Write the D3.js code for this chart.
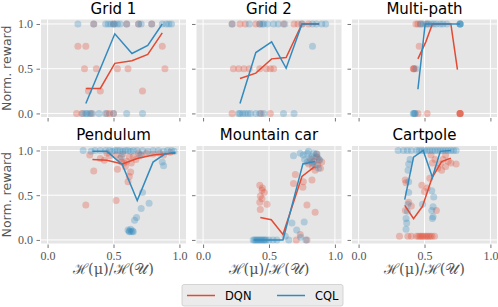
<!DOCTYPE html>
<html>
<head>
<meta charset="utf-8">
<script src="https://cdnjs.cloudflare.com/ajax/libs/d3/7.8.5/d3.min.js"></script>
<style>
body{margin:0;background:#fff;}
svg{display:block;}
</style>
</head>
<body>
<script>
// panel titles and ticks
const titles=["Grid 1","Grid 2","Multi-path","Pendulum","Mountain car","Cartpole"];
const xTicks=[0,0.5,1], yTicks=[0,0.5,1];
const seriesNames=["DQN","CQL"];

// Grid 1
const g1DqnPts=[[0.35,1],[0.50,1],[0.60,1],[0.69,1],[0.79,1],
 [0.23,0.75],[0.29,0.75],[0.87,0.75],
 [0.28,0.5],[0.37,0.5],[0.53,0.5],[0.61,0.5],[0.89,0.5],
 [0.31,0.25],[0.40,0.25],[0.72,0.25],
 [0.22,0],[0.26,0],[0.33,0],[0.45,0],[0.47,0],[0.50,0]];
const g1CqlPts=[[0.23,1],[0.35,1],[0.44,1],[0.46,1],[0.48,1],[0.50,1],[0.51,1],[0.53,1],[0.55,1],[0.60,1],[0.69,1],[0.71,1],[0.79,1],[0.87,1],[0.90,1],[0.92,1],[0.94,1],
 [0.27,0],[0.29,0],[0.30,0],[0.32,0],[0.34,0],[0.39,0],[0.44,0],[0.50,0],[0.60,0],[0.72,0]];
const g1DqnLine=[[0.29,0.28],[0.40,0.28],[0.51,0.56],[0.64,0.59],[0.76,0.66],[0.87,0.90]];
const g1CqlLine=[[0.29,0.11],[0.40,0.50],[0.51,0.89],[0.64,0.67],[0.76,0.76],[0.87,1.0]];

// Grid 2
const g2DqnPts=[[0.22,1],[0.28,1],[0.32,1],[0.40,1],[0.43,1],[0.61,1],[0.69,1],[0.72,1],[0.75,1],[0.80,1],
 [0.23,0.5],[0.27,0.5],[0.31,0.5],[0.35,0.5],[0.43,0.5],[0.48,0.5],[0.51,0.5],[0.535,0.5],
 [0.22,0],[0.44,0],[0.51,0]];
const g2CqlPts=[[0.22,1],[0.35,1],[0.43,1],[0.45,1],[0.46,1],[0.49,1],[0.535,1],[0.57,1],[0.62,1],[0.75,1],[0.83,1],[0.86,1],[0.90,1],[0.93,1],
 [0.83,0.75],
 [0.27,0],[0.28,0],[0.30,0],[0.32,0],[0.34,0],[0.36,0],[0.40,0],[0.43,0],[0.46,0],[0.61,0],[0.69,0]];
const g2DqnLine=[[0.28,0.39],[0.40,0.45],[0.52,0.61],[0.63,0.625],[0.75,1.0],[0.88,1.0]];
const g2CqlLine=[[0.28,0.11],[0.40,0.68],[0.52,0.80],[0.63,0.505],[0.75,1.0],[0.88,1.0]];

// Multi-path
const mpDqnPts=[[0.435,1],[0.45,1],[0.47,1],[0.52,1],[0.46,0.75],
 [0.415,0.5],[0.42,0.5],[0.42,0.5],
 [0.45,0],[0.52,0],[0.77,0],[0.77,0],[0.77,0],[0.77,0]];
const mpCqlPts=[[0.47,1],[0.49,1],[0.51,1],[0.53,1],[0.55,1],[0.57,1],[0.59,1],[0.62,1],[0.64,1],[0.67,1],[0.77,1],[0.77,1],[0.77,1],[0.77,1],
 [0.435,0.5],[0.415,0],[0.42,0],[0.425,0],[0.43,0]];
const mpDqnLine=[[0.45,0.61],[0.51,0.80],[0.56,1.0],[0.70,1.0],[0.75,0.49]];
const mpCqlLine=[[0.45,0.27],[0.505,1.0],[0.56,1.0],[0.70,1.0],[0.77,1.0]];

// Pendulum
const penDqnPts=[[0.29,0.39],[0.52,0.44],[0.35,0.77],[0.53,0.79],[0.61,0.65],[0.62,0.71],[0.63,0.76],
 [0.32,0.95],[0.40,0.91],[0.43,0.89],[0.47,0.94],[0.52,0.95],[0.55,0.91],[0.56,0.87],[0.58,0.86],[0.59,0.82],
 [0.60,0.88],[0.635,0.86],[0.65,0.93],[0.67,0.90],[0.71,0.95],[0.75,0.97],[0.80,0.96],[0.85,0.97],[0.88,0.95],
 [0.93,0.98],[0.62,0.93],[0.57,0.96],[0.45,0.97],[0.69,0.97]];
const penCqlPts=[[0.27,1],[0.33,0.99],[0.36,1],[0.40,1],[0.44,1],[0.47,1],[0.49,0.99],[0.51,1],[0.53,1],[0.55,1],[0.57,0.99],
 [0.59,1],[0.61,1],[0.63,0.99],[0.65,1],[0.68,1],[0.72,1],[0.76,0.99],[0.80,1],[0.84,1],[0.88,0.99],[0.91,1],[0.94,1],[0.96,0.99],
 [0.72,0.53],[0.77,0.41],[0.71,0.35],[0.675,0.25],[0.66,0.22],[0.61,0.11],[0.62,0.10],[0.635,0.09],[0.645,0.10],
 [0.65,0.09],[0.63,0.12],[0.62,0.09],[0.87,0.87],[0.88,0.83],[0.56,0.93],[0.70,0.95]];
const penDqnLine=[[0.34,0.90],[0.45,0.89],[0.567,0.85],[0.68,0.91],[0.80,0.95],[0.89,0.96],[0.97,0.97]];
const penCqlLine=[[0.34,0.99],[0.45,0.99],[0.567,0.84],[0.68,0.44],[0.80,0.87],[0.89,0.96],[0.97,0.98]];

// Mountain car
const mcDqnPts=[[0.43,0.61],[0.447,0.556],[0.464,0.53],[0.434,0.49],[0.447,0.46],[0.43,0.42],[0.485,0.40],[0.434,0.34],[0.45,0.58],
 [0.707,0],[0.737,0.06],[0.788,0],[0.85,0.31],[0.788,0.39],[0.70,0.73],[0.686,0.63],[0.757,0.59],[0.826,0.67],[0.76,0.65],
 [0.80,0.85],[0.82,0.90],[0.84,0.88],[0.86,0.93],[0.87,0.84],[0.88,0.90],[0.89,0.80],[0.85,0.78],[0.83,0.82],[0.86,0.96],[0.90,0.87]];
const mcCqlPts=[[0.38,0],[0.39,0],[0.40,0],[0.41,0],[0.42,0],[0.43,0],[0.44,0],[0.45,0],[0.46,0],[0.47,0],[0.48,0],[0.50,0],[0.53,0],[0.56,0],
 [0.623,0.04],[0.71,0.11],[0.767,0.20],[0.674,0.19],[0.78,0.0],[0.74,0.03],[0.65,0.0],
 [0.686,0.94],[0.737,0.97],[0.76,0.95],[0.79,0.97],[0.80,0.99],[0.826,0.93],[0.84,0.97],[0.864,0.96],[0.884,0.89],
 [0.85,0.84],[0.79,0.87],[0.876,0.80],[0.83,0.86],[0.81,0.91],[0.77,0.90],[0.87,0.92]];
const mcDqnLine=[[0.434,0.25],[0.517,0.226],[0.606,0.06],[0.75,0.71],[0.846,0.82]];
const mcCqlLine=[[0.383,0.0],[0.606,0.0],[0.757,0.85],[0.85,0.876]];

// Cartpole
const cpDqnPts=[[0.31,0.04],[0.374,0.04],[0.40,0.04],[0.44,0.04],[0.455,0.04],[0.467,0.04],[0.48,0.04],[0.49,0.04],[0.505,0.04],
 [0.518,0.04],[0.53,0.04],[0.543,0.04],[0.556,0.04],[0.576,0.04],
 [0.354,0.67],[0.36,0.64],[0.355,0.33],[0.38,0.42],[0.40,0.38],[0.48,0.61],[0.50,0.54],[0.54,0.69],[0.56,0.86],[0.59,0.33],
 [0.52,0.58],[0.60,0.80],[0.62,0.85],[0.64,0.90],[0.66,0.82],[0.68,0.88],[0.70,0.86],[0.74,0.85],[0.58,0.90],[0.63,0.78],[0.66,0.95],[0.55,0.95]];
const cpCqlPts=[[0.30,1],[0.34,1],[0.37,1],[0.40,1],[0.44,1],[0.46,1],[0.48,1],[0.50,1],[0.52,1],[0.54,1],[0.56,1],[0.58,1],
 [0.60,1],[0.62,1],[0.64,1],[0.66,1],[0.68,1],[0.70,1],[0.72,1],[0.74,1],
 [0.36,0.12],[0.365,0.19],[0.36,0.24],[0.37,0.32],[0.375,0.40],[0.38,0.53],[0.38,0.65],[0.375,0.78],[0.38,0.85],[0.39,0.90],
 [0.56,0.24],[0.565,0.26],[0.555,0.33],[0.565,0.37],[0.57,0.48],[0.555,0.55],[0.485,0.40]];
const cpDqnLine=[[0.35,0.387],[0.417,0.237],[0.485,0.376],[0.556,0.69],[0.63,0.876],[0.70,0.914]];
const cpCqlLine=[[0.35,0.45],[0.417,0.925],[0.49,1.0],[0.56,0.70],[0.62,0.99],[0.70,1.0]];

const panels=[
 {dqnPts:g1DqnPts,cqlPts:g1CqlPts,dqnLine:g1DqnLine,cqlLine:g1CqlLine},
 {dqnPts:g2DqnPts,cqlPts:g2CqlPts,dqnLine:g2DqnLine,cqlLine:g2CqlLine},
 {dqnPts:mpDqnPts,cqlPts:mpCqlPts,dqnLine:mpDqnLine,cqlLine:mpCqlLine},
 {dqnPts:penDqnPts,cqlPts:penCqlPts,dqnLine:penDqnLine,cqlLine:penCqlLine},
 {dqnPts:mcDqnPts,cqlPts:mcCqlPts,dqnLine:mcDqnLine,cqlLine:mcCqlLine},
 {dqnPts:cpDqnPts,cqlPts:cpCqlPts,dqnLine:cpDqnLine,cqlLine:cpCqlLine}
];

const W=498,H=307,
colX=[41,196.5,352],rowY=[19.5,146],
pw=145,ph=97.5,
red="#E24A33",blue="#348ABD",gray="#555555";

const svg=d3.select("body").append("svg")
 .attr("width",W).attr("height",H)
 .style("background","#fff");

const x=d3.scaleLinear().domain([-0.05,1.05]).range([0,pw]);
const y=d3.scaleLinear().domain([-0.04,1.05]).range([ph,0]);
const line=d3.line().x(d=>x(d[0])).y(d=>y(d[1]));

panels.forEach((p,i)=>{
 const col=i%3,row=Math.floor(i/3);
 const g=svg.append("g").attr("transform",`translate(${colX[col]},${rowY[row]})`);

 g.append("rect").attr("width",pw).attr("height",ph).attr("fill","#E5E5E5");

 g.selectAll(".gx").data(xTicks).enter().append("line")
  .attr("x1",d=>x(d)).attr("x2",d=>x(d)).attr("y1",0).attr("y2",ph)
  .attr("stroke","#fff").attr("stroke-width",1);
 g.selectAll(".gy").data(yTicks).enter().append("line")
  .attr("y1",d=>y(d)).attr("y2",d=>y(d)).attr("x1",0).attr("x2",pw)
  .attr("stroke","#fff").attr("stroke-width",1);

 const xAxis=d3.axisBottom(x).tickValues(xTicks).tickSize(3.5).tickPadding(3)
  .tickFormat(row==1?d3.format(".1f"):()=>"");
 const yAxis=d3.axisLeft(y).tickValues(yTicks).tickSize(3.5).tickPadding(3.5)
  .tickFormat(col==0?d3.format(".1f"):()=>"");

 const ax=g.append("g").attr("transform",`translate(0,${ph+1})`).call(xAxis);
 const ay=g.append("g").attr("transform",`translate(-1,0)`).call(yAxis);
 [ax,ay].forEach(a=>{
  a.select(".domain").remove();
  a.selectAll("line").attr("stroke",gray).attr("stroke-width",0.8);
  a.selectAll("text").attr("fill",gray).style("font-family","'Liberation Serif','DejaVu Serif',serif").style("font-size","12px");
 });

 g.selectAll(".dq").data(p.dqnPts).enter().append("circle")
  .attr("cx",d=>x(d[0])).attr("cy",d=>y(d[1])).attr("r",3.5)
  .attr("fill",red).attr("fill-opacity",0.3);
 g.selectAll(".cq").data(p.cqlPts).enter().append("circle")
  .attr("cx",d=>x(d[0])).attr("cy",d=>y(d[1])).attr("r",3.5)
  .attr("fill",blue).attr("fill-opacity",0.3);

 g.append("path").datum(p.dqnLine).attr("d",line)
  .attr("fill","none").attr("stroke",red).attr("stroke-width",1.5);
 g.append("path").datum(p.cqlLine).attr("d",line)
  .attr("fill","none").attr("stroke",blue).attr("stroke-width",1.5);

 g.append("text").attr("x",pw/2).attr("y",-6)
  .attr("text-anchor","middle")
  .style("font-family","'DejaVu Sans',sans-serif").style("font-size","15px")
  .attr("fill","#000").text(titles[i]);

 if(col==0){
  svg.append("text")
   .attr("transform",`translate(10.5,${rowY[row]+ph/2}) rotate(-90)`)
   .attr("text-anchor","middle")
   .style("font-family","'DejaVu Sans',sans-serif").style("font-size","12.5px")
   .attr("fill",gray).text("Norm. reward");
 }
 if(row==1){
  g.append("text").attr("x",pw/2).attr("y",ph+30)
   .attr("text-anchor","middle")
   .style("font-family","'DejaVu Serif',serif").style("font-size","14.5px")
   .attr("fill",gray).text("ℋ(μ)/ℋ(𝒰)");
 }
});

// legend
const leg=svg.append("g").attr("id","legend");
leg.append("rect").attr("x",182).attr("y",284.5).attr("width",161).attr("height",21.5)
 .attr("rx",2).attr("fill","#EBEBEB").attr("stroke","#CCCCCC").attr("stroke-width",0.8);
const legItems=leg.selectAll(".item").data(seriesNames).enter().append("g")
 .attr("transform",(d,i)=>`translate(${187+i*90},295.5)`);
legItems.append("line").attr("x1",0).attr("x2",28)
 .attr("stroke",(d,i)=>i?blue:red).attr("stroke-width",1.5);
legItems.append("text").attr("x",38).attr("y",4)
 .style("font-family","'DejaVu Sans',sans-serif").style("font-size","11.5px")
 .attr("fill","#000").text(d=>d);
</script>
</body>
</html>
